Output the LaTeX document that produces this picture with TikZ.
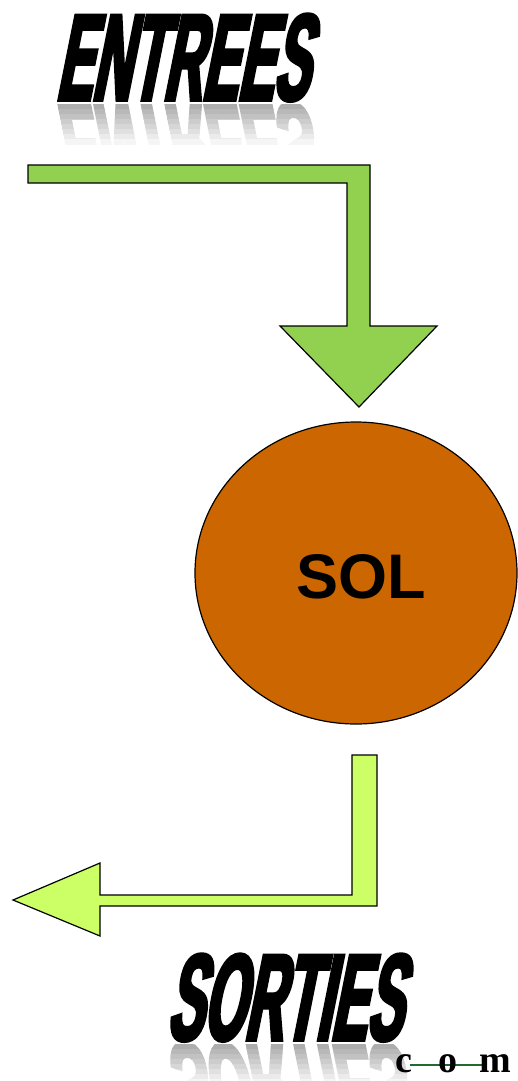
\documentclass[tikz,border=0pt]{standalone}
\usepackage{fontspec}
\usetikzlibrary{shapes.geometric}
\newfontfamily\impfont{Liberation Sans}[BoldFeatures={FakeStretch=0.435,FakeSlant=0.2,FakeBold=3}]
\newfontfamily\arialfont{Liberation Sans}
\newfontfamily\timesfont{Liberation Serif}
\definecolor{greenA}{HTML}{92D050}
\definecolor{greenB}{HTML}{CCFF66}
\definecolor{soil}{HTML}{CC6600}
\definecolor{darkgreen}{HTML}{1E6B2E}
\tikzset{
  arrowshape/.style={draw=black, line width=1.2pt, line join=miter},
  bigword/.style={anchor=base, inner sep=0pt, transform shape, font=\impfont\bfseries\fontsize{123}{123}\selectfont},
  solnode/.style={ellipse, draw=black, line width=1.2pt, fill=soil, minimum width=322pt, minimum height=302pt, inner sep=0pt},
  sollabel/.style={anchor=base, inner sep=0pt, font=\arialfont\bfseries\fontsize{63}{63}\selectfont},
  comletter/.style={anchor=base, inner sep=0pt, font=\timesfont\bfseries\fontsize{38}{38}\selectfont},
}
\newcommand\reflectword[4]{% name, x, y(top of reflection), text
  \foreach \i [evaluate=\i as \shade using {int(32-4*\i)}] in {0,...,7}{
    \begin{scope}
      \clip (0,{#3+5*\i}) rectangle (517,{#3+5*\i+5.2});
      \begin{scope}[shift={(#2,#3)}, yscale=-1]
        \node[bigword, text=black!\shade] (#1\i) at (0,0) {#4};
      \end{scope}
    \end{scope}
  }%
}
\begin{document}
\begin{tikzpicture}[x=1pt, y=-1pt]
\useasboundingbox (0,0) rectangle (517,1081);
% titles
\reflectword{entreesrefl}{182}{104}{ENTREES}
\node[bigword] (entrees) at (182,100) {ENTREES};
% top arrow
\draw[arrowshape, fill=greenA] (28,165) -- (370,165) -- (370,326) -- (437,326) -- (359,407) -- (280,326) -- (347,326) -- (347,183) -- (28,183) -- cycle;
% soil
\node[solnode] (sol) at (356,573) {};
\node[sollabel] (sollab) at (361,598) {SOL};
% bottom arrow
\draw[arrowshape, fill=greenB] (352,755) -- (377,755) -- (377,906) -- (100,906) -- (100,936) -- (13,900) -- (100,863) -- (100,895) -- (352,895) -- cycle;
% sorties
\reflectword{sortiesrefl}{284}{1044}{SORTIES}
\node[bigword] (sorties) at (284,1040) {SORTIES};
% c o m
\coordinate (comA) at (410,1065);
\coordinate (comB) at (485,1065);
\draw[darkgreen, line width=2.2pt] (comA) -- (comB);
\node[comletter] (comc) at (404,1072) {c};
\node[comletter] (como) at (448,1072) {o};
\node[comletter, anchor=base west] (comm) at (479,1072) {m};
\end{tikzpicture}
\end{document}
